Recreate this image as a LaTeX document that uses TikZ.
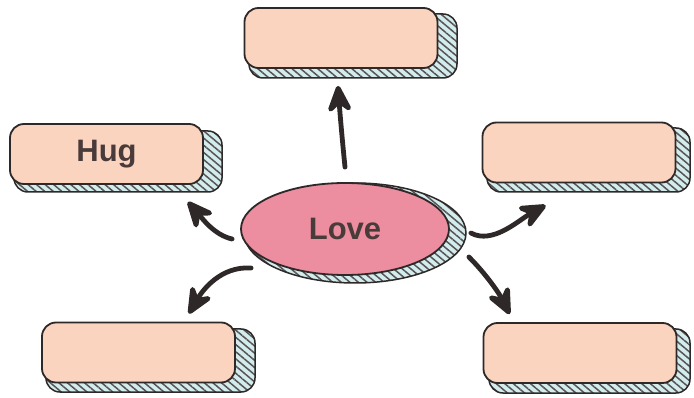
\documentclass[tikz,border=0pt]{standalone}
\usepackage{fontspec}
\setmainfont{Liberation Sans}
\usetikzlibrary{shapes.geometric,arrows.meta,patterns.meta}
\definecolor{peach}{HTML}{FAD4BF}
\definecolor{pinkfill}{HTML}{EC8DA0}
\definecolor{hatchbg}{HTML}{D3ECEE}
\definecolor{ink}{HTML}{2E2828}
\definecolor{txt}{HTML}{4A3B3B}
\tikzset{bigtip/.tip={Stealth[length=34pt,width=30pt,inset=12pt,round]}}
\begin{document}
\begin{tikzpicture}[x=1pt,y=-1pt,
  card/.style={draw=ink,line width=1.8pt,fill=peach,rounded corners=14pt,
    minimum width=193pt,minimum height=60pt,inner sep=0pt,
    font=\fontsize{31}{32}\selectfont\bfseries,text=txt},
  lovenode/.style={ellipse,draw=ink,line width=1.8pt,fill=pinkfill,
    minimum width=208pt,minimum height=92pt,inner sep=0pt,
    font=\fontsize{31}{32}\selectfont\bfseries,text=txt},
  extrude/.style={draw=ink,line width=1.5pt,preaction={fill=hatchbg},
    pattern={Lines[angle=-40,distance=5.5pt,line width=1.5pt]},pattern color=ink!80},
  arr/.style={draw=ink,line width=4.8pt,line cap=round,-bigtip}]
\useasboundingbox[fill=white] (0,0) rectangle (694,398);
% extruded sides
\draw[extrude,rounded corners=14pt] (249,14) rectangle (457,78);
\draw[extrude,rounded corners=14pt] (14,131) rectangle (222,192);
\draw[extrude,rounded corners=14pt] (487,128) rectangle (690,192);
\draw[extrude,rounded corners=14pt] (46,329) rectangle (255,392);
\draw[extrude,rounded corners=14pt] (489,329) rectangle (690,393);
\draw[extrude] (355,233) ellipse [x radius=111, y radius=50];
% front faces
\node[card] (top) at (341,38) {};
\node[card] (hug) at (106.5,154) {Hug};
\node[card] (right) at (579,152.5) {};
\node[card] (bl) at (138.5,352.5) {};
\node[card] (br) at (580,353) {};
\node[lovenode] (love) at (345,229) {Love};
% arrows
\draw[arr] ([shift={(0,-15)}]love.north) .. controls +(-3,-30) and +(2,28) .. ([shift={(-3,17)}]top.south);
\draw[arr] ([shift={(-8,10)}]love.west) .. controls +(-18,-4) and +(14,16) .. ([shift={(-16,17)}]hug.south east);
\draw[arr] ([shift={(11,39)}]love.west) .. controls +(-30,-2) and +(14,-24) .. ([shift={(-47,-8)}]bl.north east);
\draw[arr] ([shift={(21,4)}]love.east) .. controls +(22,12) and +(-26,14) .. ([shift={(64,22)}]right.south west);
\draw[arr] ([shift={(19,28)}]love.east) .. controls +(18,18) and +(-10,-20) .. ([shift={(27,-8)}]br.north west);
\end{tikzpicture}
\end{document}
